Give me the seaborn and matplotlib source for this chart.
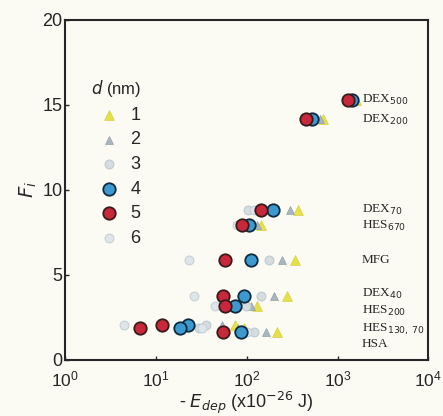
import numpy as np
import pandas as pd
import matplotlib
matplotlib.use("Agg")
import matplotlib.pyplot as plt
import seaborn as sns

# Row positions (F_i) for each polymer
polymers = ["DEX500", "DEX200", "DEX70", "HES670", "MFG", "DEX40", "HES200", "HES130", "HES70", "HSA"]
F_i = [15.3, 14.15, 8.8, 7.95, 5.85, 3.75, 3.15, 2.05, 1.85, 1.65]

# -E_dep (x10^-26 J) for each d (nm)
d1 = [1580, 700, 368, 144, 341, 275, 130, 74, 93, 214]
d2 = [1500, 640, 299, 130, 245, 202, 112, 54, 80, 164]
d3 = [1400, 470, 103, 80, 177, 144, 97, 36, 30, 120]
d4 = [1427, 526, 194, 105, 110, 93, 74, 22.3, 18.4, 86]
d5 = [1313, 445, 144, 89, 58, 55, 57, 11.6, 6.6, 55]
d6 = [1350, 460, 120, 78, 23, 26, 45, 4.4, 32, 100]

labels_txt = [r"DEX$_{500}$", r"DEX$_{200}$", r"DEX$_{70}$", r"HES$_{670}$", "MFG",
              r"DEX$_{40}$", r"HES$_{200}$", r"HES$_{130,\,70}$", "HSA"]
label_y = [15.3, 14.1, 8.8, 7.85, 5.85, 3.85, 2.9, 1.8, 0.95]

series = {"1": d1, "2": d2, "3": d3, "4": d4, "5": d5, "6": d6}
rows = []
for k, vals in series.items():
    for p, f, v in zip(polymers, F_i, vals):
        rows.append({"d": k, "polymer": p, "F": f, "E": v})
df = pd.DataFrame(rows)

styles = {
    "1": dict(marker="^", s=50, color="#e6e04a", edgecolor="#d8d040", linewidth=0.5),
    "2": dict(marker="^", s=32, color="#a9b6bd", edgecolor="#8fa0a8", linewidth=0.5),
    "3": dict(marker="o", s=40, color="#d5dde0", edgecolor="#c0cacd", linewidth=0.8),
    "4": dict(marker="o", s=80, color="#3d9ad0", edgecolor="#0d2a40", linewidth=1.3),
    "5": dict(marker="o", s=80, color="#c8283a", edgecolor="#3a1a1a", linewidth=1.3),
    "6": dict(marker="o", s=40, color="#dfe6ea", edgecolor="#c6d0d6", linewidth=0.8),
}
order = ["1", "2", "3", "6", "4", "5"]

sns.set_style("ticks")
plt.rcParams["font.family"] = ["Liberation Sans", "DejaVu Sans"]

fig = plt.figure(figsize=(4.43, 4.16), dpi=100)
fig.patch.set_facecolor("#fbfbf4")
ax = fig.add_axes([0.147, 0.135, 0.82, 0.817])
ax.set_facecolor("#fbfbf4")

for k in order:
    sub = df[df["d"] == k]
    st = styles[k]
    sns.scatterplot(data=sub, x="E", y="F", ax=ax, marker=st["marker"], s=st["s"],
                    color=st["color"], edgecolor=st["edgecolor"], linewidth=st["linewidth"],
                    label=k, zorder=3 if k in ("4", "5") else 2)

ax.set_xscale("log")
ax.set_xlim(1, 1e4)
ax.set_ylim(0, 20)
ax.set_yticks([0, 5, 10, 15, 20])
ax.set_xticks([1, 10, 100, 1000, 10000])
ax.minorticks_off()
ax.tick_params(direction="in", length=3, labelsize=13, width=1, pad=2)
ax.tick_params(axis="x", pad=7, labelsize=12.5)
for sp in ax.spines.values():
    sp.set_linewidth(1.5)
ax.set_xlabel(r"- $E_{dep}$ (x10$^{-26}$ J)", fontsize=13, labelpad=0)
ax.set_ylabel(r"$F_i$", fontsize=14, labelpad=2)

for t, y in zip(labels_txt, label_y):
    ax.text(1850, y, t, fontsize=9.5, family="Liberation Serif", va="center", ha="left")

handles, labs = ax.get_legend_handles_labels()
hmap = dict(zip(labs, handles))
leg = ax.legend([hmap[k] for k in ["1", "2", "3", "4", "5", "6"]], ["1", "2", "3", "4", "5", "6"],
                title=r"$d$ (nm)", frameon=False, loc="upper left", bbox_to_anchor=(0.05, 0.85),
                fontsize=13, title_fontsize=12, handletextpad=0.2, labelspacing=0.42,
                borderaxespad=0)
leg._legend_box.align = "left"

fig.savefig("out.png", dpi=100, facecolor=fig.get_facecolor())
